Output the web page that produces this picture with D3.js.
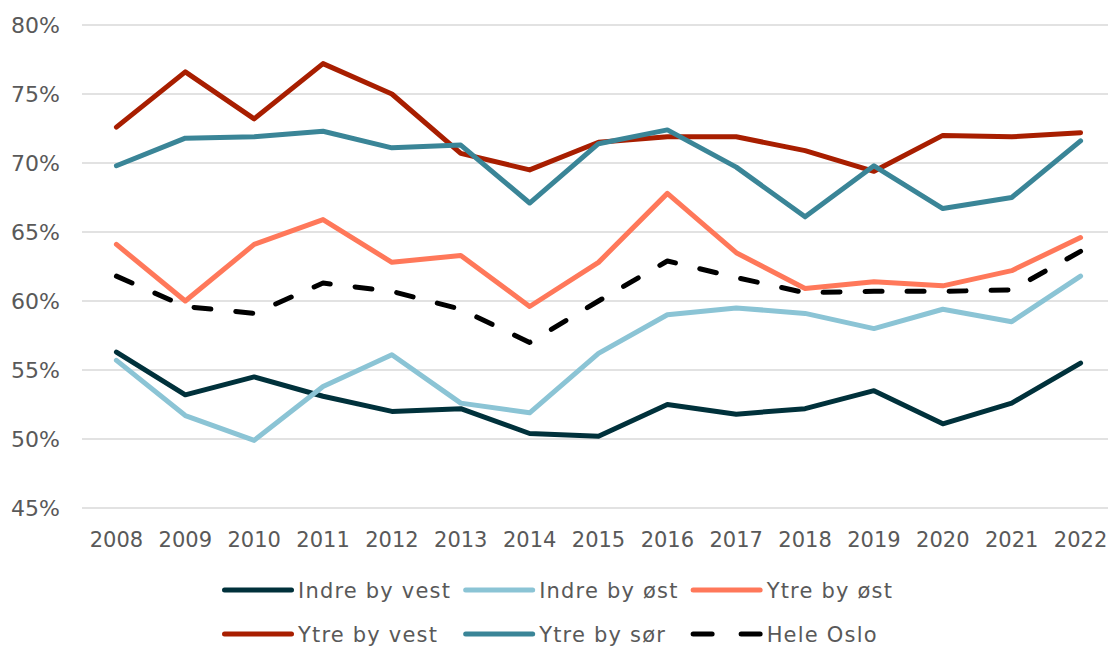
<!DOCTYPE html>
<html>
<head>
<meta charset="utf-8">
<script src="https://cdn.jsdelivr.net/npm/d3@7"></script>
<style>
  body { margin: 0; background: #fff; }
  text { font-family: "DejaVu Sans", sans-serif; fill: #595959; }
</style>
</head>
<body>
<svg id="chart"></svg>
<script>
var years = ['2008','2009','2010','2011','2012','2013','2014','2015','2016','2017','2018','2019','2020','2021','2022'];

var indreVest = [56.3,53.2,54.5,53.1,52.0,52.2,50.4,50.2,52.5,51.8,52.2,53.5,51.1,52.6,55.5];
var indreOst  = [55.7,51.7,49.9,53.8,56.1,52.6,51.9,56.2,59.0,59.5,59.1,58.0,59.4,58.5,61.8];
var ytreOst   = [64.1,60.0,64.1,65.9,62.8,63.3,59.6,62.8,67.8,63.5,60.9,61.4,61.1,62.2,64.6];
var ytreVest  = [72.6,76.6,73.2,77.2,75.0,70.7,69.5,71.5,71.9,71.9,70.9,69.4,72.0,71.9,72.2];
var ytreSor   = [69.8,71.8,71.9,72.3,71.1,71.3,67.1,71.4,72.4,69.7,66.1,69.8,66.7,67.5,71.6];
var heleOslo  = [61.8,59.6,59.1,61.3,60.7,59.4,57.0,60.0,62.9,61.7,60.6,60.7,60.7,60.8,63.6];

var yTicks = [45,50,55,60,65,70,75,80];

var series = [
  {name:'Indre by vest', values:indreVest, color:'#00313b', dash:null},
  {name:'Indre by øst',  values:indreOst,  color:'#8bc4d5', dash:null},
  {name:'Ytre by øst',   values:ytreOst,   color:'#ff785a', dash:null},
  {name:'Ytre by vest',  values:ytreVest,  color:'#a81e00', dash:null},
  {name:'Ytre by sør',   values:ytreSor,   color:'#3a8597', dash:null},
  {name:'Hele Oslo',     values:heleOslo,  color:'#000000', dash:'17,25'}
];

var width = 1108, height = 646;
var svg = d3.select('#chart')
  .attr('width', width)
  .attr('height', height);

var plotLeft = 82, plotRight = 1115, plotTop = 25, plotBottom = 508;

var x = d3.scalePoint()
  .domain(years)
  .range([plotLeft, plotRight])
  .padding(0.5);

var y = d3.scaleLinear()
  .domain([45, 80])
  .range([plotBottom, plotTop]);

// gridlines
svg.append('g')
  .selectAll('line')
  .data(yTicks)
  .enter().append('line')
    .attr('x1', plotLeft)
    .attr('x2', plotRight)
    .attr('y1', function(d){return y(d);})
    .attr('y2', function(d){return y(d);})
    .style('stroke', '#d9d9d9')
    .style('stroke-width', 1.5);

// y labels
svg.append('g')
  .selectAll('text')
  .data(yTicks)
  .enter().append('text')
    .attr('x', 60)
    .attr('y', function(d){return y(d);})
    .attr('dy', '0.36em')
    .attr('text-anchor', 'end')
    .style('font-size', '22px')
    .text(function(d){return d + '%';});

// x labels
svg.append('g')
  .selectAll('text')
  .data(years)
  .enter().append('text')
    .attr('x', function(d){return x(d);})
    .attr('y', 547)
    .attr('text-anchor', 'middle')
    .style('font-size', '21px')
    .text(function(d){return d;});

var line = d3.line()
  .x(function(d, i){return x(years[i]);})
  .y(function(d){return y(d);});

svg.append('g')
  .selectAll('path')
  .data(series)
  .enter().append('path')
    .attr('d', function(d){return line(d.values);})
    .style('fill', 'none')
    .style('stroke', function(d){return d.color;})
    .style('stroke-width', 5)
    .style('stroke-linejoin', 'round')
    .style('stroke-linecap', 'round')
    .style('stroke-dasharray', function(d){return d.dash;});

// legend, two rows of three; columns sized by the widest label
var legend = svg.append('g');

var items = legend.selectAll('g')
  .data(series)
  .enter().append('g');

items.append('line')
  .attr('x1', 2.5)
  .attr('x2', 69.5)
  .style('stroke', function(d){return d.color;})
  .style('stroke-width', 5)
  .style('stroke-linecap', 'round')
  .style('stroke-dasharray', function(d){return d.dash ? '19,29' : null;});

items.append('text')
  .attr('x', 76)
  .attr('dy', '0.36em')
  .style('font-size', '21px')
  .style('letter-spacing', '1.2px')
  .text(function(d){return d.name;});

var colWidth = [0, 0, 0];
items.each(function(d, i){
  var w = this.querySelector('text').getComputedTextLength();
  colWidth[i % 3] = Math.max(colWidth[i % 3], 76 + w + 12);
});

items.attr('transform', function(d, i){
  var c = i % 3, cx = 222;
  for (var k = 0; k < c; k++) cx += colWidth[k];
  return 'translate(' + cx + ',' + (590 + Math.floor(i / 3) * 44) + ')';
});
</script>
</body>
</html>
